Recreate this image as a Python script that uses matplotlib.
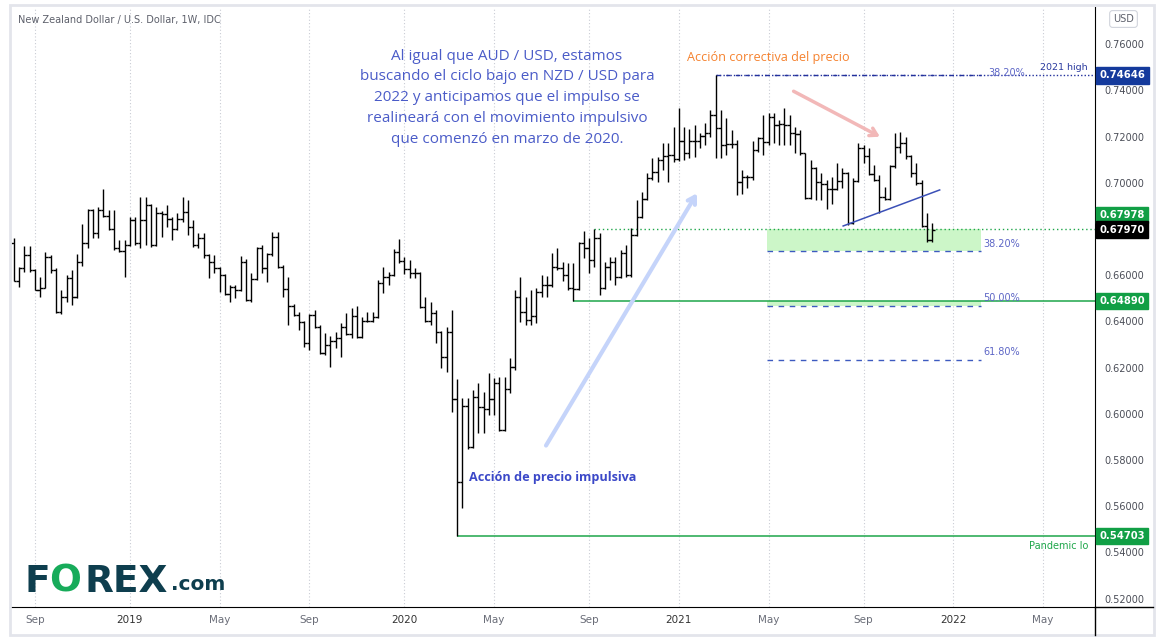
import matplotlib
matplotlib.use("Agg")
import matplotlib.pyplot as plt
import matplotlib.dates as mdates
from matplotlib.lines import Line2D
from matplotlib.patches import Rectangle
import pandas as pd

W, H = 1163, 644

# weekly NZD/USD bars
opens = [0.6740, 0.6576, 0.6632, 0.6688, 0.6623, 0.6536, 0.6545, 0.6679, 0.6623, 0.6441,
         0.6506, 0.6588, 0.6506, 0.6658, 0.6740, 0.6883, 0.6783, 0.6883, 0.6857, 0.6800,
         0.6718, 0.6705, 0.6731, 0.6839, 0.6740, 0.6839, 0.6904, 0.6731, 0.6870, 0.6865,
         0.6844, 0.6800, 0.6844, 0.6874, 0.6809, 0.6731, 0.6762, 0.6688, 0.6658, 0.6632,
         0.6601, 0.6519, 0.6549, 0.6536, 0.6658, 0.6493, 0.6584, 0.6718, 0.6632, 0.6692,
         0.6766, 0.6636, 0.6541, 0.6467, 0.6428, 0.6398, 0.6307, 0.6428, 0.6376, 0.6263,
         0.6298, 0.6315, 0.6328, 0.6376, 0.6346, 0.6424, 0.6333, 0.6402, 0.6402, 0.6419,
         0.6567, 0.6593, 0.6601, 0.6701, 0.6662, 0.6627, 0.6610, 0.6610, 0.6463, 0.6402,
         0.6437, 0.6354, 0.6246, 0.6354, 0.6064, 0.5705, 0.6034, 0.5856, 0.6073, 0.6030,
         0.6021, 0.6064, 0.6134, 0.5930, 0.6108, 0.6203, 0.6506, 0.6441, 0.6406, 0.6424,
         0.6528, 0.6558, 0.6558, 0.6636, 0.6632, 0.6601, 0.6545, 0.6541, 0.6740, 0.6718,
         0.6666, 0.6762, 0.6545, 0.6636, 0.6658, 0.6593, 0.6697, 0.6601, 0.6775, 0.6852,
         0.6931, 0.7021, 0.7047, 0.7099, 0.7116, 0.7121, 0.7103, 0.7181, 0.7129, 0.7181,
         0.7181, 0.7203, 0.7216, 0.7294, 0.7238, 0.7164, 0.7168, 0.7168, 0.7004, 0.7026,
         0.7026, 0.7142, 0.7194, 0.7177, 0.7285, 0.7251, 0.7255, 0.7251, 0.7216, 0.7212,
         0.7129, 0.6935, 0.7065, 0.7004, 0.6995, 0.6974, 0.6974, 0.7008, 0.7043, 0.6826,
         0.7008, 0.7151, 0.7116, 0.7039, 0.7013, 0.6939, 0.6931, 0.7073, 0.7155, 0.7173,
         0.7116, 0.7043, 0.6999, 0.6813, 0.6753]
highs = [0.6762, 0.6636, 0.6727, 0.6727, 0.6627, 0.6593, 0.6701, 0.6688, 0.6632, 0.6536,
         0.6601, 0.6623, 0.6692, 0.6822, 0.6887, 0.6887, 0.6896, 0.6974, 0.6883, 0.6883,
         0.6753, 0.6753, 0.6852, 0.6852, 0.6939, 0.6939, 0.6910, 0.6896, 0.6880, 0.6904,
         0.6850, 0.6870, 0.6939, 0.6926, 0.6839, 0.6783, 0.6783, 0.6692, 0.6688, 0.6636,
         0.6605, 0.6558, 0.6558, 0.6684, 0.6671, 0.6610, 0.6722, 0.6731, 0.6697, 0.6788,
         0.6788, 0.6645, 0.6593, 0.6476, 0.6441, 0.6402, 0.6432, 0.6450, 0.6385, 0.6350,
         0.6337, 0.6354, 0.6393, 0.6437, 0.6458, 0.6467, 0.6419, 0.6441, 0.6441, 0.6580,
         0.6636, 0.6614, 0.6714, 0.6757, 0.6679, 0.6666, 0.6632, 0.6614, 0.6506, 0.6484,
         0.6450, 0.6360, 0.6376, 0.6450, 0.6151, 0.6069, 0.6069, 0.6103, 0.6134, 0.6095,
         0.6177, 0.6155, 0.6160, 0.6160, 0.6242, 0.6536, 0.6593, 0.6506, 0.6536, 0.6545,
         0.6601, 0.6597, 0.6697, 0.6718, 0.6658, 0.6653, 0.6653, 0.6744, 0.6792, 0.6762,
         0.6798, 0.6783, 0.6658, 0.6679, 0.6679, 0.6710, 0.6731, 0.6805, 0.6926, 0.6961,
         0.7043, 0.7108, 0.7112, 0.7173, 0.7173, 0.7242, 0.7324, 0.7242, 0.7233, 0.7250,
         0.7216, 0.7259, 0.7316, 0.74646, 0.7316, 0.7281, 0.7229, 0.7186, 0.7056, 0.7034,
         0.7181, 0.7199, 0.7294, 0.7303, 0.7303, 0.7272, 0.7324, 0.7294, 0.7242, 0.7229,
         0.7130, 0.7099, 0.7070, 0.7043, 0.7013, 0.7026, 0.7086, 0.7065, 0.7047, 0.7021,
         0.7173, 0.7164, 0.7151, 0.7078, 0.7034, 0.6982, 0.7078, 0.7216, 0.7220, 0.7199,
         0.7120, 0.7086, 0.7013, 0.6870, 0.6826]
lows = [0.6576, 0.6549, 0.6614, 0.6614, 0.6536, 0.6506, 0.6545, 0.6610, 0.6437, 0.6433,
        0.6484, 0.6471, 0.6500, 0.6640, 0.6718, 0.6762, 0.6762, 0.6852, 0.6796, 0.6710,
        0.6701, 0.6593, 0.6725, 0.6731, 0.6718, 0.6731, 0.6722, 0.6725, 0.6766, 0.6809,
        0.6753, 0.6796, 0.6831, 0.6775, 0.6722, 0.6718, 0.6675, 0.6588, 0.6610, 0.6528,
        0.6512, 0.6484, 0.6502, 0.6530, 0.6488, 0.6485, 0.6580, 0.6610, 0.6571, 0.6685,
        0.6632, 0.6506, 0.6385, 0.6424, 0.6363, 0.6289, 0.6276, 0.6370, 0.6259, 0.6255,
        0.6203, 0.6285, 0.6246, 0.6341, 0.6328, 0.6328, 0.6328, 0.6398, 0.6398, 0.6415,
        0.6523, 0.6558, 0.6597, 0.6653, 0.6606, 0.6588, 0.6588, 0.6458, 0.6398, 0.6385,
        0.6307, 0.6198, 0.6181, 0.6008, 0.54703, 0.5592, 0.5848, 0.5850, 0.5917, 0.5917,
        0.5995, 0.5995, 0.5925, 0.5925, 0.6090, 0.6190, 0.6398, 0.6385, 0.6385, 0.6393,
        0.6506, 0.6506, 0.6550, 0.6623, 0.6576, 0.6536, 0.6489, 0.6535, 0.6675, 0.6610,
        0.6636, 0.6515, 0.6540, 0.6580, 0.6558, 0.6588, 0.6593, 0.6593, 0.6770, 0.6848,
        0.6926, 0.7013, 0.7004, 0.7056, 0.7004, 0.7091, 0.7095, 0.7099, 0.7108, 0.7112,
        0.7151, 0.7164, 0.7199, 0.7108, 0.7108, 0.7121, 0.7151, 0.6948, 0.6952, 0.6978,
        0.7013, 0.7135, 0.7121, 0.7164, 0.7173, 0.7164, 0.7164, 0.7164, 0.7129, 0.7121,
        0.6930, 0.6930, 0.6926, 0.6926, 0.6887, 0.6909, 0.6968, 0.6978, 0.6818, 0.6820,
        0.7004, 0.7086, 0.7034, 0.7008, 0.6870, 0.6926, 0.6925, 0.7065, 0.7129, 0.7103,
        0.7026, 0.6991, 0.6809, 0.6744, 0.6744]
closes = [0.6576, 0.6632, 0.6688, 0.6623, 0.6536, 0.6545, 0.6679, 0.6623, 0.6441, 0.6506,
          0.6588, 0.6506, 0.6658, 0.6740, 0.6883, 0.6783, 0.6883, 0.6857, 0.6800, 0.6718,
          0.6705, 0.6731, 0.6839, 0.6740, 0.6839, 0.6904, 0.6731, 0.6870, 0.6865, 0.6844,
          0.6800, 0.6844, 0.6874, 0.6809, 0.6731, 0.6762, 0.6688, 0.6658, 0.6632, 0.6601,
          0.6519, 0.6549, 0.6536, 0.6658, 0.6493, 0.6584, 0.6718, 0.6632, 0.6692, 0.6766,
          0.6636, 0.6541, 0.6467, 0.6428, 0.6398, 0.6307, 0.6428, 0.6376, 0.6263, 0.6298,
          0.6315, 0.6328, 0.6376, 0.6346, 0.6424, 0.6333, 0.6402, 0.6402, 0.6419, 0.6567,
          0.6593, 0.6601, 0.6701, 0.6662, 0.6627, 0.6610, 0.6610, 0.6463, 0.6402, 0.6437,
          0.6354, 0.6246, 0.6354, 0.6064, 0.5705, 0.6034, 0.5856, 0.6073, 0.6030, 0.6021,
          0.6064, 0.6134, 0.5930, 0.6108, 0.6203, 0.6506, 0.6441, 0.6406, 0.6424, 0.6528,
          0.6558, 0.6558, 0.6636, 0.6632, 0.6601, 0.6545, 0.6541, 0.6740, 0.6718, 0.6666,
          0.6762, 0.6545, 0.6636, 0.6658, 0.6593, 0.6697, 0.6601, 0.6775, 0.6852, 0.6931,
          0.7021, 0.7047, 0.7099, 0.7116, 0.7121, 0.7103, 0.7181, 0.7129, 0.7181, 0.7181,
          0.7203, 0.7216, 0.7294, 0.7238, 0.7164, 0.7168, 0.7168, 0.7004, 0.7026, 0.7026,
          0.7142, 0.7194, 0.7177, 0.7285, 0.7251, 0.7255, 0.7251, 0.7216, 0.7212, 0.7129,
          0.6935, 0.7065, 0.7004, 0.6995, 0.6974, 0.6974, 0.7008, 0.7043, 0.6826, 0.7008,
          0.7151, 0.7116, 0.7039, 0.7013, 0.6939, 0.6931, 0.7073, 0.7155, 0.7173, 0.7116,
          0.7043, 0.6999, 0.6813, 0.6753, 0.6797]
week_start = pd.date_range("2018-08-06", periods=len(closes), freq="7D")

price_ticks = [0.76, 0.74, 0.72, 0.70, 0.66, 0.64, 0.62, 0.60, 0.58, 0.56, 0.54, 0.52]
time_ticks = ["2018-09-03", "2019-01-07", "2019-05-06", "2019-09-02", "2020-01-06", "2020-05-04",
              "2020-09-07", "2021-01-04", "2021-05-03", "2021-09-06", "2022-01-03", "2022-05-02"]
time_labels = ["Sep", "2019", "May", "Sep", "2020", "May", "Sep", "2021", "May", "Sep", "2022", "May"]

high_2021 = 0.74646
pandemic_lo = 0.54703
support = 0.64890
zone_top = 0.67978
last_price = 0.67970
fib_pct = [0.382, 0.5, 0.618]
fib_names = ["38.20%", "50.00%", "61.80%"]

note = ["Al igual que AUD / USD, estamos",
        "buscando el ciclo bajo en NZD / USD para",
        "2022 y anticipamos que el impulso se",
        "realineará con el movimiento impulsivo",
        "que comenzó en marzo de 2020."]

teal = "#0e3e4e"
green = "#1ea64a"
navy = "#22309c"
fibblue = "#3d5ac0"


def d(s):
    return mdates.date2num(pd.Timestamp(s))


def px(x, y):
    return x / W, 1 - y / H


fig = plt.figure(figsize=(W / 100, H / 100), dpi=100)
ax = fig.add_axes([10 / W, 1 - 607 / H, 1085 / W, 600 / H])
ax.set_xlim(d("2018-08-01"), d("2022-07-10"))
ax.set_ylim(0.51632, 0.77612)

# OHLC bars
x = mdates.date2num(week_start.to_pydatetime())
ax.vlines(x, lows, highs, color="black", lw=1.0, zorder=4)
ax.hlines(opens, x - 3.6, x, color="black", lw=1.0, zorder=4)
ax.hlines(closes, x, x + 3.6, color="black", lw=1.0, zorder=4)

# levels
ax.hlines(pandemic_lo, d("2020-03-16"), ax.get_xlim()[1], color=green, lw=1.1)
ax.hlines(support, d("2020-08-17"), ax.get_xlim()[1], color=green, lw=1.1)
ax.hlines(zone_top, d("2020-09-14"), ax.get_xlim()[1], color=green, lw=1.0, linestyles=(0, (1, 2)))
ax.hlines(high_2021, d("2021-02-22"), ax.get_xlim()[1], color=navy, lw=1.0, linestyles=(0, (1, 1.5)))
ax.hlines(high_2021, d("2021-02-22"), d("2022-02-09"), color=navy, lw=1.0, linestyles=(0, (3, 4)))

# fib retracement
fs, fe = d("2021-05-01"), d("2022-02-09")
fib = [high_2021 - p * (high_2021 - pandemic_lo) for p in fib_pct]
ax.fill_between([fs, fe], fib[0], zone_top, color="#ccf6c8", lw=0, zorder=1)
ax.fill_between([fs, fe], fib[1], support, color="#ccf6c8", lw=0, zorder=1)
for lvl, name in zip(fib, fib_names):
    ax.hlines(lvl, fs, fe, color=fibblue, lw=1.0, linestyles=(0, (4, 4)), zorder=2)
    ax.annotate(name, (fe, lvl), xytext=(1.5, 5.5), textcoords="offset points",
                ha="left", va="center", color="#5d66c6", fontsize=7)
ax.annotate("38.20%", (fe, high_2021), xytext=(5, 1.5), textcoords="offset points",
            ha="left", va="center", color="#5d66c6", fontsize=7)

# trendline and arrows
ax.plot([d("2021-08-10"), d("2021-12-16")], [0.6813, 0.6969], color="#3b50b7", lw=1.1, zorder=5)
ax.annotate("", xy=(d("2021-10-01"), 0.7194), xytext=(d("2021-06-02"), 0.7402),
            arrowprops=dict(arrowstyle="->,head_length=0.5,head_width=0.3", color="#f2b8b8", lw=2.5))
ax.annotate("", xy=(d("2021-01-30"), 0.6965), xytext=(d("2020-07-10"), 0.5852),
            arrowprops=dict(arrowstyle="->,head_length=0.5,head_width=0.3", color="#c5d4fa", lw=3))

# axes styling
for s in ["top", "left"]:
    ax.spines[s].set_visible(False)
ax.spines["right"].set_color("black")
ax.spines["bottom"].set_color("black")
ax.yaxis.tick_right()
ax.set_yticks(price_ticks)
ax.set_yticklabels([f"{v:.5f}" for v in price_ticks])
ax.tick_params(axis="y", length=0, pad=7, labelsize=7, labelcolor="#4a4d57")
ax.set_xticks([d(t) for t in time_ticks])
ax.set_xticklabels(time_labels)
ax.tick_params(axis="x", length=0, pad=6, labelsize=7.5)
for lab in ax.get_xticklabels():
    lab.set_color("#333333" if lab.get_text().isdigit() else "#6a6d78")
ax.grid(axis="x", color="#c9ccd4", ls=(0, (1, 2)), lw=0.8)
ax.set_axisbelow(True)


def price_box(y, text, color):
    ax.text(1.0042, y, text, transform=ax.get_yaxis_transform(), ha="left", va="center",
            color="white", fontsize=7.2, fontweight="bold", clip_on=False, zorder=10,
            bbox=dict(boxstyle="square,pad=0.32", fc=color, ec=color))


price_box(high_2021, f"{high_2021:.5f}", "#143a9c")
price_box(0.6861, f"{zone_top:.5f}", "#119f45")
price_box(last_price, f"{last_price:.5f}", "#000000")
price_box(support, f"{support:.5f}", "#119f45")
price_box(pandemic_lo, f"{pandemic_lo:.5f}", "#119f45")

# frame and axis extensions
fig.add_artist(Rectangle(px(9.5, 635), 1144 / W, 630 / H, transform=fig.transFigure,
                         fill=False, ec="#e3e5eb", lw=2))
fig.add_artist(Line2D([1095 / W, 1095 / W], [1 - 635 / H, 1 - 607 / H], color="black", lw=1))
fig.add_artist(Line2D([1095 / W, 1153 / W], [1 - 607 / H, 1 - 607 / H], color="black", lw=1))

# texts
fig.text(*px(18, 20), "New Zealand Dollar / U.S. Dollar, 1W, IDC", ha="left", va="center",
         fontsize=7, color="#5d606b")
fig.text(*px(1123.5, 19), "USD", ha="center", va="center", fontsize=7, color="#5d606b",
         bbox=dict(boxstyle="round,pad=0.35,rounding_size=0.3", fc="white", ec="#d1d4dc", lw=0.8))
for i, line in enumerate(note):
    fig.text(*px(507, 59.5 + 20.8 * i), line, ha="center", va="baseline", fontsize=11,
             color="#4b5cc8", family="Open Sans")
fig.text(*px(687, 61.5), "Acción correctiva del precio", ha="left", va="baseline", fontsize=9.1,
         color="#f5822f", family="Open Sans")
fig.text(*px(469, 480.5), "Acción de precio impulsiva", ha="left", va="baseline", fontsize=9.1,
         color="#3b48c8", family="Open Sans", fontweight="bold")
fig.text(*px(1088, 70), "2021 high", ha="right", va="baseline", fontsize=6.8, color="#2a3a9f")
fig.text(*px(1088, 549), "Pandemic lo", ha="right", va="baseline", fontsize=7, color=green)

# logo
fig.text(*px(25, 592), "F", ha="left", va="baseline", fontsize=27, fontweight="heavy", color=teal)
fig.text(*px(49, 592), "O", ha="left", va="baseline", fontsize=27, fontweight="heavy", color="#17ab5a")
fig.text(*px(84, 592), "REX", ha="left", va="baseline", fontsize=27, fontweight="heavy", color=teal)
fig.text(*px(171, 590), ".com", ha="left", va="baseline", fontsize=14.5, fontweight="heavy", color=teal)

fig.savefig("out.png", dpi=100, facecolor="white")
